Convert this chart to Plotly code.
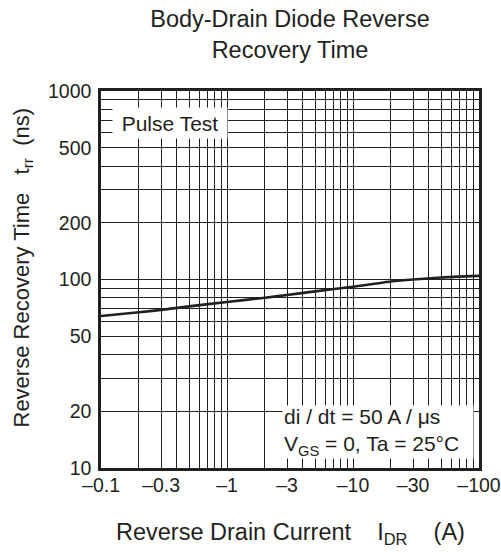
import plotly.graph_objects as go

# data
current_a = [0.1, 0.2, 0.3, 0.5, 1, 2, 3, 5, 10, 20, 30, 50, 100]
trr_ns = [64, 67, 69, 72, 76, 80, 82.8, 86.5, 91.5, 97.5, 100, 102.5, 104.5]

x_labels = {0.1: "\u20130.1", 0.3: "\u20130.3", 1: "\u20131", 3: "\u20133",
            10: "\u201310", 30: "\u201330", 100: "\u2013100"}
y_labels = {10: "10", 20: "20", 50: "50", 100: "100", 200: "200", 500: "500", 1000: "1000"}

INK = "#231f20"
FONT = "Liberation Sans, Arial, sans-serif"

def log_ticks(lo_exp, hi_exp):
    vals = []
    for e in range(lo_exp, hi_exp):
        for m in range(1, 10):
            vals.append(round(m * 10 ** e, 6))
    vals.append(round(10 ** hi_exp, 6))
    return vals

xt = log_ticks(-1, 2)
yt = log_ticks(1, 3)

fig = go.Figure()
fig.add_trace(go.Scatter(x=current_a, y=trr_ns, mode="lines",
                         line=dict(color=INK, width=2.6, shape="spline", smoothing=0.5),
                         showlegend=False, hoverinfo="skip"))

axis_common = dict(type="log", showgrid=True, gridcolor=INK, gridwidth=1,
                   showline=True, linecolor=INK, linewidth=2.5, mirror=True,
                   ticks="", zeroline=False, automargin=False,
                   tickfont=dict(family=FONT, size=19.5, color=INK))

fig.update_xaxes(range=[-1, 2], tickmode="array", tickvals=xt,
                 ticktext=[x_labels.get(v, "") for v in xt], ticklabelstandoff=-2,
                 **axis_common)
fig.update_yaxes(range=[1, 3], tickmode="array", tickvals=yt,
                 ticktext=[y_labels.get(v, "") for v in yt], ticklabelstandoff=3,
                 **axis_common)

fig.update_layout(
    width=501, height=555,
    margin=dict(l=101, r=22, t=91, b=87),
    paper_bgcolor="white", plot_bgcolor="white",
    font=dict(family=FONT, color=INK, size=19),
    title=dict(text="Body-Drain Diode Reverse<br>Recovery Time",
               x=0.5, xref="paper", xanchor="center",
               y=1 - 27 / 555, yref="container", yanchor="middle",
               font=dict(family=FONT, size=23.5, color=INK)),
)

# Pulse Test box
fig.add_annotation(xref="paper", yref="paper", x=(112 - 101) / 378, y=1 - (107 - 91) / 377,
                   xanchor="left", yanchor="top", text="Pulse Test", showarrow=False,
                   bgcolor="white", width=112, height=28, align="center",
                   font=dict(family=FONT, size=21, color=INK))
# Conditions box
fig.add_annotation(xref="paper", yref="paper", x=(474 - 101) / 378, y=1 - (459 - 91) / 377,
                   xanchor="right", yanchor="bottom",
                   text="di / dt = 50 A / \u03bcs<br>V<sub>GS</sub> = 0, Ta = 25\u00b0C",
                   showarrow=False, bgcolor="white", width=188, height=50, align="left",
                   font=dict(family=FONT, size=21, color=INK))
# axis titles
fig.add_annotation(xref="paper", yref="paper", x=0, y=0.5, xanchor="center", yanchor="middle",
                   xshift=-79, yshift=12, textangle=-90, showarrow=False,
                   text="Reverse Recovery Time   t<sub>rr</sub>  (ns)",
                   font=dict(family=FONT, size=22, color=INK))
fig.add_annotation(xref="paper", yref="paper", x=0.5, y=0, xanchor="center", yanchor="middle",
                   yshift=-65, showarrow=False,
                   text="Reverse Drain Current    I<sub>DR</sub>    (A)",
                   font=dict(family=FONT, size=23.5, color=INK))

fig.write_html("out.html", config={"displayModeBar": False},
               post_script="document.body.style.margin='0';")
